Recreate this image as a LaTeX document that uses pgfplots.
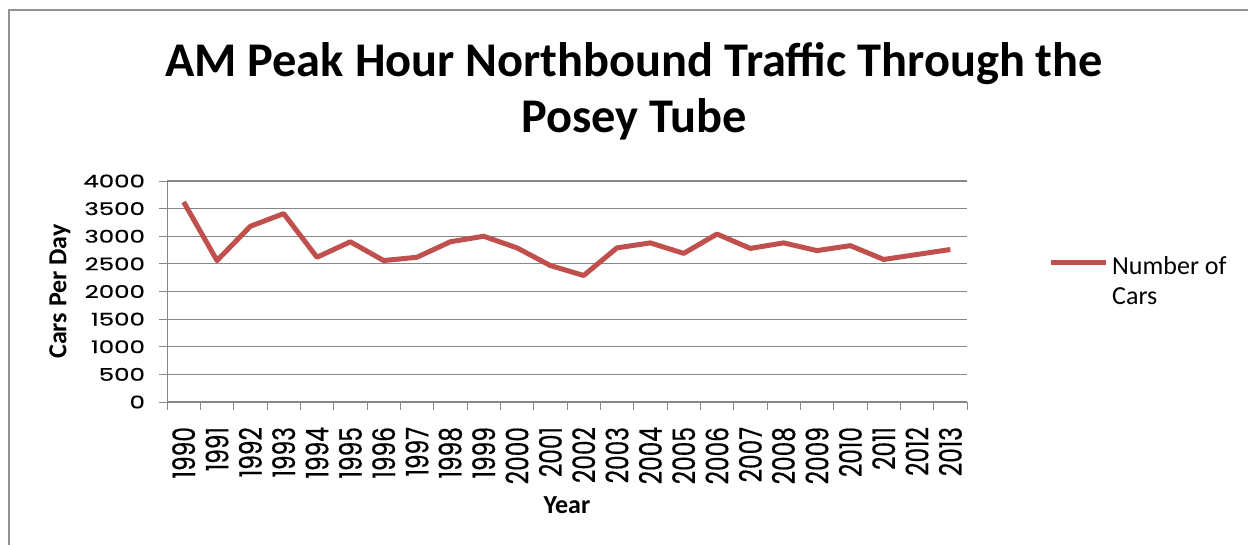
\documentclass[border=0pt]{standalone}
\usepackage{fontspec}
\setmainfont{Carlito}
\newfontfamily\yfont[FakeStretch=1.4, FakeBold=0.5]{Poppins}
\newfontfamily\xfont[FakeStretch=0.75, FakeBold=0.5]{Poppins}
\usepackage{pgfplots}
\pgfplotsset{compat=1.18}
\definecolor{exred}{HTML}{C0504D}
\definecolor{gridgray}{HTML}{868686}
\begin{document}
\begin{tikzpicture}
\path[use as bounding box] (0,0) rectangle (624pt,-272.5pt);
\draw[color=gridgray!90, line width=1pt] (4.5pt,-272.5pt) -- (4.5pt,-5pt) -- (624pt,-5pt);
\node[anchor=base, font=\fontsize{24.2pt}{28pt}\selectfont\bfseries] at (317pt,-38.5pt) {AM Peak Hour Northbound Traffic Through the};
\node[anchor=base, font=\fontsize{24.2pt}{28pt}\selectfont\bfseries] at (317pt,-66.5pt) {Posey Tube};
\begin{axis}[
  at={(83.5pt,-201pt)}, anchor=south west,
  scale only axis, width=400pt, height=110.5pt,
  xmin=-0.5, xmax=23.5, ymin=0, ymax=4000,
  axis lines*=left, axis line style={draw=gridgray, -},
  tick align=outside,
  xtick={0,...,23},
  xticklabels={1990,1991,1992,1993,1994,1995,1996,1997,1998,1999,2000,2001,2002,2003,2004,2005,2006,2007,2008,2009,2010,2011,2012,2013},
  minor xtick={-0.5,0.5,...,23.5},
  x tick style={draw=none},
  minor x tick style={draw=gridgray, line width=0.5pt},
  minor tick length=4pt,
  ytick={0,500,...,4000},
  yticklabels={0,500,1000,1500,2000,2500,3000,3500,4000},
  y tick style={draw=gridgray, line width=0.5pt},
  major tick length=4pt,
  ymajorgrids, grid style={draw=gridgray, line width=0.6pt},
  xticklabel style={font=\xfont\fontsize{15.5pt}{16pt}\selectfont, yshift=-5pt, rotate=90, anchor=east},
  yticklabel style={font=\yfont\fontsize{8.75pt}{10pt}\selectfont, xshift=-3.5pt},
  xlabel={Year}, ylabel={Cars Per Day},
  xlabel style={font=\fontsize{13pt}{15pt}\selectfont\bfseries, at={(axis description cs:0.5,-0.466)}, anchor=center},
  ylabel style={font=\fontsize{13pt}{15pt}\selectfont\bfseries, at={(axis description cs:-0.134,0.5)}, anchor=center},
  legend style={draw=none, fill=none, at={(axis description cs:1.101,0.679)}, anchor=north west, font=\fontsize{13pt}{15pt}\selectfont, cells={align=left}, inner sep=0pt},
  legend image code/.code={\draw[#1, line width=2.5pt] (0pt,9.5pt) -- (27.5pt,9.5pt);},
]
\addplot[color=exred, line width=2.5pt, line join=round] coordinates {
(0,3620) (1,2560) (2,3180) (3,3410) (4,2620) (5,2900) (6,2560) (7,2620)
(8,2900) (9,3000) (10,2790) (11,2470) (12,2290) (13,2790) (14,2880) (15,2690)
(16,3040) (17,2780) (18,2880) (19,2740) (20,2830) (21,2580) (22,2670) (23,2760)
};
\addlegendentry{Number of\\Cars}
\end{axis}
\end{tikzpicture}
\end{document}
